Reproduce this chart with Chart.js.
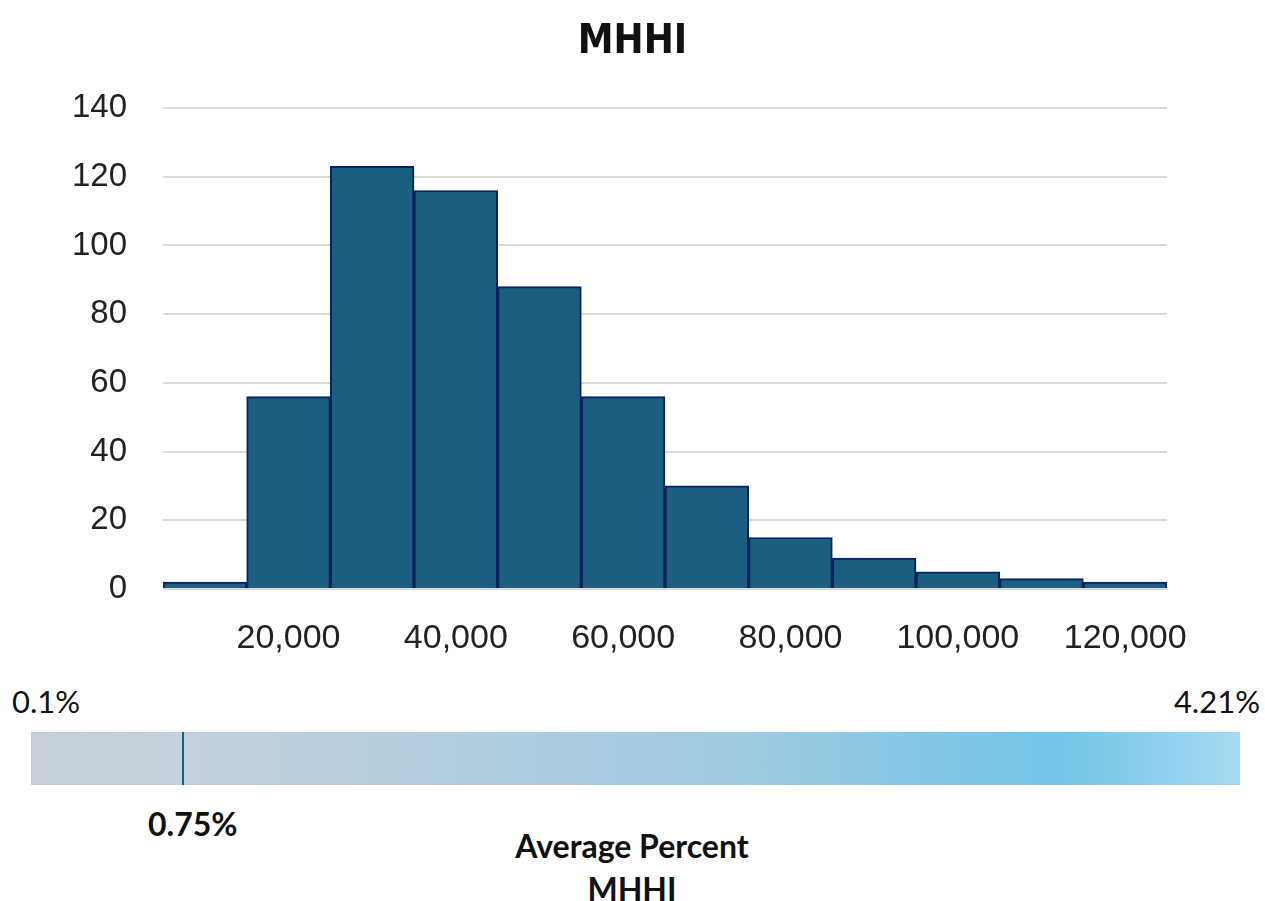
<!DOCTYPE html>
<html>
<head>
<meta charset="utf-8">
<script src="https://cdn.jsdelivr.net/npm/chart.js@4/dist/chart.umd.min.js"></script>
<style>
  html, body { margin: 0; padding: 0; background: #ffffff; }
  #wrap { position: relative; width: 1265px; height: 901px; overflow: hidden; background: #fff; }
  #chartBox { position: absolute; left: 0; top: 0; width: 1265px; height: 670px; }
  .lbl { position: absolute; font-family: Lato, "Open Sans", sans-serif; color: #111; white-space: nowrap; line-height: 1; }
  #gauge { position: absolute; left: 31px; top: 732px; width: 1209px; height: 53px; }
  #marker { position: absolute; top: 732px; width: 2px; height: 53px; background: #1d5f82; }
</style>
</head>
<body>
<div id="wrap">
  <div id="chartBox"><canvas id="c"></canvas></div>
  <div id="minLbl" class="lbl"></div>
  <div id="maxLbl" class="lbl"></div>
  <div id="gauge"></div>
  <div id="marker"></div>
  <div id="avgLbl" class="lbl"></div>
  <div id="capLbl" class="lbl"></div>
</div>
<script>
// ---- data ----
const chartTitle = 'MHHI';
const binLabels = ['10,000','20,000','30,000','40,000','50,000','60,000','70,000','80,000','90,000','100,000','110,000','120,000'];
const binCounts = [2, 56, 123, 116, 88, 56, 30, 15, 9, 5, 3, 2];
const yTickValues = [0, 20, 40, 60, 80, 100, 120, 140];
const gaugeMin = '0.1%';
const gaugeMax = '4.21%';
const gaugeAvg = '0.75%';
const gaugeAvgFraction = 0.126;   // position of the average marker along the gauge
const gaugeCaption = ['Average Percent', 'MHHI'];

// ---- chart ----
const ctx = document.getElementById('c');
new Chart(ctx, {
  type: 'bar',
  data: {
    labels: binLabels,
    datasets: [{
      data: binCounts,
      backgroundColor: '#1a5e80',
      borderColor: '#0b2160',
      borderWidth: 2,
      barPercentage: 1,
      categoryPercentage: 1
    }]
  },
  options: {
    responsive: true,
    maintainAspectRatio: false,
    animation: false,
    layout: { padding: { left: 0, right: 0, top: 0, bottom: 0 } },
    plugins: {
      legend: { display: false },
      tooltip: { enabled: false },
      title: {
        display: true,
        text: chartTitle,
        color: '#111',
        font: { family: '"DejaVu Sans Condensed", "DejaVu Sans", sans-serif', weight: 'bold', size: 40 },
        padding: { top: 19, bottom: 41 }
      }
    },
    scales: {
      x: {
        grid: { display: false, drawTicks: false },
        border: { display: false },
        ticks: {
          autoSkip: false,
          maxRotation: 0,
          padding: 29,
          color: '#222',
          font: { family: '"Liberation Sans", Arial, sans-serif', size: 34 },
          callback: function(v, i) { return i % 2 === 1 ? binLabels[i] : ''; }
        },
        afterFit: function(s) { s.height = 81; }
      },
      y: {
        min: 0,
        max: 140,
        afterBuildTicks: function(s) { s.ticks = yTickValues.map(v => ({ value: v })); },
        grid: { color: '#d9d9d9', lineWidth: 2, drawTicks: false },
        border: { display: false },
        ticks: {
          padding: 36,
          color: '#222',
          font: { family: '"Liberation Sans", Arial, sans-serif', size: 33 }
        },
        afterFit: function(s) { s.width = 163; }
      },
      yRight: {
        position: 'right',
        min: 0,
        max: 140,
        grid: { display: false, drawTicks: false },
        border: { display: false },
        ticks: { display: false },
        afterFit: function(s) { s.width = 98; }
      }
    }
  }
});

// ---- gauge ----
const minLbl = document.getElementById('minLbl');
minLbl.textContent = gaugeMin;
Object.assign(minLbl.style, { left: '12px', top: '686px', fontSize: '31px' });
const maxLbl = document.getElementById('maxLbl');
maxLbl.textContent = gaugeMax;
Object.assign(maxLbl.style, { right: '5px', top: '686px', fontSize: '31px' });

const gauge = document.getElementById('gauge');
gauge.style.background = 'linear-gradient(to right, #c6cfd9 0%, #c4d0db 12.6%, #b3cddd 35%, #9ccbe2 60%, #72c4e8 85%, #a6daf1 100%)';
const marker = document.getElementById('marker');
marker.style.left = (31 + 1209 * gaugeAvgFraction - 1) + 'px';

const avgLbl = document.getElementById('avgLbl');
avgLbl.textContent = gaugeAvg;
Object.assign(avgLbl.style, { left: '148px', top: '808px', fontSize: '32px', fontWeight: 'bold' });

const capLbl = document.getElementById('capLbl');
capLbl.innerHTML = gaugeCaption.join('<br>');
Object.assign(capLbl.style, { left: '432px', width: '400px', textAlign: 'center', top: '824px', fontSize: '32px', fontWeight: 'bold', lineHeight: '43px' });
</script>
</body>
</html>
